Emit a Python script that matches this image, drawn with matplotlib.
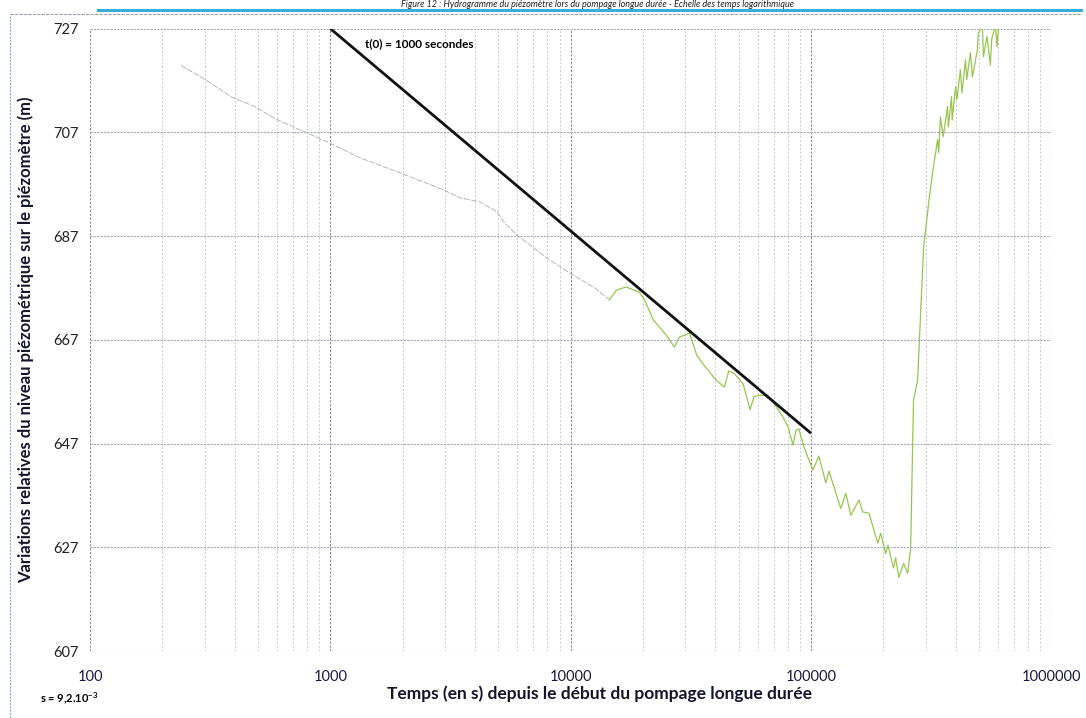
import numpy as np
import matplotlib
matplotlib.use("Agg")
import matplotlib.pyplot as plt
from matplotlib.lines import Line2D

plt.rcParams['font.family'] = ['Lato', 'DejaVu Sans']
plt.rcParams['mathtext.fontset'] = 'custom'
plt.rcParams['mathtext.rm'] = 'Lato'
plt.rcParams['mathtext.bf'] = 'Lato:bold'

# temps depuis le debut du pompage (s) et niveau piezometrique relatif (m)
temps = [239, 294, 392, 484, 591, 780, 990, 1330, 1950, 2970, 3460, 4190,
         4930, 5320, 5970, 7950, 9900, 12600, 14500, 15500, 17000, 19300,
         20300, 22100, 25000, 27000, 28300, 31200, 33500, 36000, 40400,
         43600, 45500, 48000, 52200, 55800, 58000, 60300, 66000, 72000,
         76500, 80300, 84200, 86700, 89100, 93500, 101900, 107800, 115300,
         118800, 133100, 139600, 146500, 158400, 164400, 174200, 189800,
         195000, 204600, 209200, 220600, 225200, 231900, 243000, 252500,
         255500, 260000, 264800, 267200, 277800, 294400, 305600, 310000,
         320700, 336400, 340000, 345700, 355000, 370000, 373000, 384500,
         387000, 399600, 405000, 418800, 425000, 439700, 445000, 461000,
         470000, 493000, 497000, 517000, 522000, 540000, 558000, 565000,
         586000, 595000, 605000, 650000]
niveau = [719.9, 717.5, 713.7, 712.0, 709.6, 707.1, 705.0, 702.1, 699.2, 695.9,
          694.4, 693.6, 691.7, 689.5, 687.2, 682.8, 679.9, 677.0, 674.7, 676.6,
          677.2, 676.2, 674.7, 670.8, 667.9, 665.6, 667.5, 668.3, 664.0, 662.0,
          659.2, 657.9, 661.0, 660.5, 658.5, 653.6, 656.0, 656.3, 656.3, 654.0,
          652.1, 650.2, 646.7, 649.6, 649.8, 646.3, 641.9, 644.6, 639.4, 641.7,
          634.5, 637.4, 633.2, 636.1, 633.8, 633.6, 627.8, 629.7, 625.8, 627.4,
          623.0, 625.0, 621.2, 623.9, 622.0, 623.9, 627.0, 646.3, 655.4, 659.2,
          684.9, 691.5, 694.0, 699.2, 705.6, 703.1, 710.0, 706.2, 712.0, 708.1,
          713.9, 709.4, 715.8, 713.3, 719.1, 714.6, 721.0, 717.2, 722.4, 717.7,
          723.0, 726.2, 727.5, 721.6, 725.5, 720.0, 725.0, 727.5, 723.5, 728.0,
          728.0]

# droite d'ajustement de Jacob
droite_t = [1000, 100000]
droite_h = [727, 649]

y_ticks = [607, 627, 647, 667, 687, 707, 727]
x_ticks = [100, 1000, 10000, 100000, 1000000]
x_labels = ['100', '1000', '10000', '100000', '1000000']

fig = plt.figure(figsize=(10.86, 7.18), dpi=100)
ax = fig.add_axes([0.083, 0.0933, 0.885, 0.8667])

split = 18
ax.plot(temps[:split + 1], niveau[:split + 1], color='#b4b8b0', lw=0.7,
        linestyle=(0, (6, 1.5)))
ax.plot(temps[split:], niveau[split:], color='#98c450', lw=0.9)
ax.plot(droite_t, droite_h, color='#111111', lw=2.0, solid_capstyle='butt')

ax.text(1390, 724.2, 't(0) = 1000 secondes', fontsize=8.5, fontweight='bold',
        va='center', ha='left')

ax.set_xscale('log')
ax.set_xlim(100, 1000000)
ax.set_ylim(607, 727)
ax.set_xticks(x_ticks)
ax.set_xticklabels(x_labels)
ax.set_yticks(y_ticks)
ax.tick_params(axis='both', length=0, labelsize=10.5, colors='#222222')
ax.tick_params(axis='x', pad=14)
ax.tick_params(axis='y', pad=8)
for lab in ax.get_xticklabels():
    lab.set_color('#1a1a40')

ax.grid(True, which='major', axis='y', color='#a4acba', lw=0.8, linestyle=(0, (2, 1)))
ax.grid(True, which='major', axis='x', color='#8a8a8a', lw=0.8, linestyle=(0, (2, 1.5)))
ax.grid(True, which='minor', axis='x', color='#c8c8c8', lw=0.7, linestyle=(0, (2, 2)))
for s in ax.spines.values():
    s.set_visible(False)
ax.tick_params(axis='x', which='minor', length=0)

ax.set_xlabel('Temps (en s) depuis le début du pompage longue durée',
              fontsize=12.5, fontweight='bold', color='#15152a')
ax.xaxis.set_label_coords(0.53, -0.055)
ax.set_ylabel('Variations relatives du niveau piézométrique sur le piézomètre (m)',
              fontsize=12, fontweight='bold', color='#15152a', labelpad=14)

fig.text(0.037, 0.022, r's = 9,2.10$^{\mathbf{-3}}$', fontsize=8, fontweight='bold')

# en-tete du document scanne
fig.text(0.55, 0.9995, 'Figure 12 : Hydrogramme du piézomètre lors du pompage longue durée - Echelle des temps logarithmique',
         fontsize=6.5, style='italic', ha='center', va='top', color='#222222')
fig.add_artist(Line2D([0.09, 0.995], [0.9855, 0.9855], color='#35aede', lw=2.2))
fig.add_artist(Line2D([0.009, 0.995], [0.980, 0.980], color='#9aa0a8', lw=0.8,
                      linestyle=(0, (3, 1))))
fig.add_artist(Line2D([0.009, 0.009], [0.0, 0.980], color='#7fb8c0', lw=0.8,
                      linestyle=(0, (2, 1))))

fig.savefig('out.png', dpi=100)
